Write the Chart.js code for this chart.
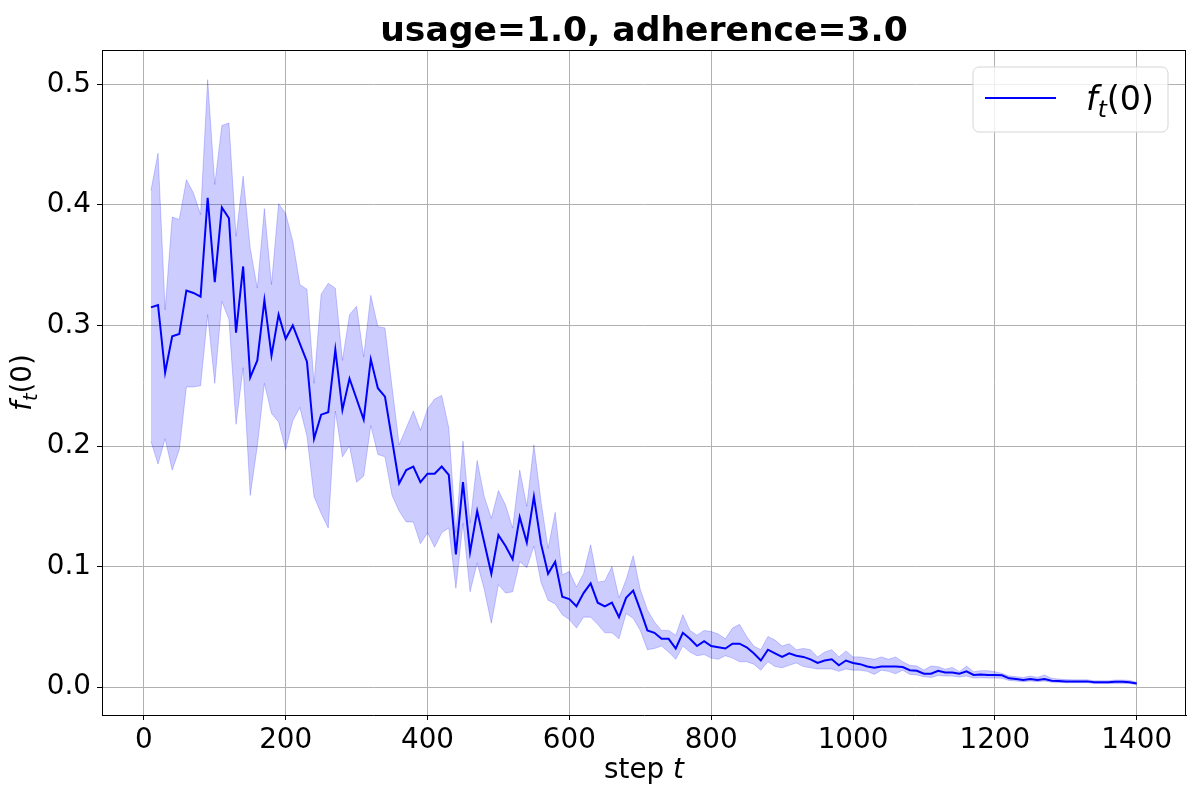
<!DOCTYPE html>
<html>
<head>
<meta charset="utf-8">
<script src="https://cdn.jsdelivr.net/npm/chart.js@4/dist/chart.umd.min.js"></script>
<style>
    body { margin: 0; background: #fff; }
    #wrap { width: 1200px; height: 800px; }
</style>
</head>
<body>
<div id="wrap"><canvas id="chartFt0" width="1200" height="800"></canvas></div>
<script>
// data
var steps = [10, 20, 30, 40, 50, 60, 70, 80, 90, 100,
    110, 120, 130, 140, 150, 160, 170, 180, 190, 200,
    210, 220, 230, 240, 250, 260, 270, 280, 290, 300,
    310, 320, 330, 340, 350, 360, 370, 380, 390, 400,
    410, 420, 430, 440, 450, 460, 470, 480, 490, 500,
    510, 520, 530, 540, 550, 560, 570, 580, 590, 600,
    610, 620, 630, 640, 650, 660, 670, 680, 690, 700,
    710, 720, 730, 740, 750, 760, 770, 780, 790, 800,
    810, 820, 830, 840, 850, 860, 870, 880, 890, 900,
    910, 920, 930, 940, 950, 960, 970, 980, 990, 1000,
    1010, 1020, 1030, 1040, 1050, 1060, 1070, 1080, 1090, 1100,
    1110, 1120, 1130, 1140, 1150, 1160, 1170, 1180, 1190, 1200,
    1210, 1220, 1230, 1240, 1250, 1260, 1270, 1280, 1290, 1300,
    1310, 1320, 1330, 1340, 1350, 1360, 1370, 1380, 1390, 1400];

var meanVals = [0.315, 0.317, 0.261, 0.291, 0.293, 0.329, 0.327, 0.324, 0.406, 0.336,
    0.398, 0.389, 0.294, 0.349, 0.257, 0.271, 0.321, 0.275, 0.309, 0.289,
    0.300, 0.285, 0.270, 0.206, 0.226, 0.228, 0.280, 0.230, 0.256, 0.239,
    0.222, 0.272, 0.248, 0.241, 0.205, 0.169, 0.180, 0.183, 0.170, 0.177,
    0.177, 0.183, 0.176, 0.110, 0.170, 0.112, 0.146, 0.120, 0.094, 0.126,
    0.117, 0.106, 0.141, 0.120, 0.158, 0.119, 0.094, 0.104, 0.075, 0.073,
    0.067, 0.078, 0.086, 0.070, 0.067, 0.070, 0.058, 0.074, 0.080, 0.064,
    0.047, 0.045, 0.040, 0.040, 0.032, 0.045, 0.040, 0.034, 0.038, 0.034,
    0.033, 0.032, 0.036, 0.036, 0.033, 0.028, 0.022, 0.031, 0.028, 0.025,
    0.028, 0.026, 0.025, 0.023, 0.020, 0.022, 0.023, 0.018, 0.022, 0.020,
    0.019, 0.017, 0.016, 0.017, 0.017, 0.017, 0.0166, 0.014, 0.0135, 0.011,
    0.011, 0.0135, 0.012, 0.012, 0.011, 0.013, 0.010, 0.0105, 0.010, 0.010,
    0.0097, 0.0072, 0.0066, 0.0058, 0.0066, 0.0058, 0.0066, 0.0052, 0.005, 0.0047,
    0.0047, 0.0047, 0.0047, 0.004, 0.004, 0.004, 0.0044, 0.0044, 0.004, 0.003];

var upperVals = [0.412, 0.443, 0.313, 0.390, 0.388, 0.421, 0.410, 0.392, 0.504, 0.417,
    0.466, 0.468, 0.374, 0.424, 0.364, 0.331, 0.397, 0.334, 0.401, 0.393,
    0.370, 0.334, 0.330, 0.252, 0.326, 0.335, 0.331, 0.271, 0.309, 0.316,
    0.274, 0.325, 0.299, 0.298, 0.249, 0.201, 0.215, 0.229, 0.213, 0.231,
    0.239, 0.242, 0.215, 0.128, 0.204, 0.136, 0.188, 0.158, 0.140, 0.163,
    0.151, 0.132, 0.180, 0.150, 0.201, 0.154, 0.115, 0.145, 0.093, 0.096,
    0.083, 0.094, 0.118, 0.087, 0.088, 0.100, 0.074, 0.089, 0.109, 0.081,
    0.064, 0.054, 0.047, 0.047, 0.043, 0.060, 0.047, 0.043, 0.047, 0.046,
    0.044, 0.040, 0.049, 0.052, 0.042, 0.034, 0.031, 0.042, 0.039, 0.034,
    0.036, 0.031, 0.032, 0.031, 0.025, 0.029, 0.031, 0.025, 0.030, 0.025,
    0.025, 0.024, 0.023, 0.025, 0.023, 0.025, 0.021, 0.018, 0.0175, 0.0141,
    0.0174, 0.0169, 0.0147, 0.0163, 0.0127, 0.0174, 0.0127, 0.0136, 0.0136, 0.0127,
    0.0113, 0.0091, 0.0086, 0.008, 0.0091, 0.008, 0.010, 0.0072, 0.0066, 0.0062,
    0.006, 0.006, 0.006, 0.0052, 0.0052, 0.0052, 0.0058, 0.0058, 0.0055, 0.004];

var lowerVals = [0.204, 0.185, 0.206, 0.180, 0.197, 0.249, 0.249, 0.250, 0.309, 0.252,
    0.320, 0.305, 0.218, 0.265, 0.159, 0.200, 0.252, 0.227, 0.220, 0.197,
    0.221, 0.232, 0.208, 0.158, 0.144, 0.132, 0.229, 0.191, 0.200, 0.170,
    0.175, 0.217, 0.193, 0.191, 0.159, 0.146, 0.137, 0.137, 0.119, 0.128,
    0.116, 0.128, 0.132, 0.082, 0.136, 0.079, 0.103, 0.081, 0.053, 0.085,
    0.078, 0.079, 0.104, 0.099, 0.117, 0.087, 0.072, 0.069, 0.060, 0.056,
    0.049, 0.058, 0.058, 0.052, 0.045, 0.045, 0.040, 0.061, 0.057, 0.047,
    0.031, 0.032, 0.034, 0.029, 0.023, 0.034, 0.029, 0.026, 0.027, 0.024,
    0.023, 0.026, 0.024, 0.021, 0.021, 0.019, 0.014, 0.021, 0.017, 0.016,
    0.018, 0.020, 0.017, 0.016, 0.015, 0.015, 0.015, 0.013, 0.015, 0.014,
    0.014, 0.013, 0.0105, 0.014, 0.013, 0.011, 0.014, 0.0105, 0.010, 0.0086,
    0.008, 0.0095, 0.0091, 0.0091, 0.0083, 0.0091, 0.0075, 0.0077, 0.0075, 0.0075,
    0.0072, 0.0055, 0.005, 0.0044, 0.005, 0.0044, 0.005, 0.004, 0.0038, 0.0036,
    0.0036, 0.0036, 0.0036, 0.003, 0.003, 0.003, 0.003, 0.003, 0.0028, 0.0022];

var xTicks = [0, 200, 400, 600, 800, 1000, 1200, 1400];
var yTicks = [0.0, 0.1, 0.2, 0.3, 0.4, 0.5];

var chartTitle = 'usage=1.0, adherence=3.0';
var xLabel = 'step';
var xLabelVar = 't';
var seriesLabel = ['f', 't', '(0)'];

var FONT = '"DejaVu Sans", sans-serif';

function toPoints(vals) {
    var pts = [];
    for (var i = 0; i < steps.length; i++) {
        pts.push({ x: steps[i], y: vals[i] });
    }
    return pts;
}

// f_t(0) with italic f, small lowered t
function drawFt0(ctx, x, y, size) {
    ctx.textAlign = 'left';
    ctx.textBaseline = 'alphabetic';
    ctx.font = 'italic ' + size + 'px ' + FONT;
    ctx.fillText(seriesLabel[0], x, y);
    x += ctx.measureText(seriesLabel[0]).width;
    var small = size * 0.7;
    ctx.font = 'italic ' + small + 'px ' + FONT;
    ctx.fillText(seriesLabel[1], x, y + size * 0.2);
    x += ctx.measureText(seriesLabel[1]).width;
    ctx.font = size + 'px ' + FONT;
    ctx.fillText(seriesLabel[2], x, y);
}

function widthFt0(ctx, size) {
    ctx.font = 'italic ' + size + 'px ' + FONT;
    var w = ctx.measureText(seriesLabel[0]).width;
    ctx.font = 'italic ' + (size * 0.7) + 'px ' + FONT;
    w += ctx.measureText(seriesLabel[1]).width;
    ctx.font = size + 'px ' + FONT;
    return w + ctx.measureText(seriesLabel[2]).width;
}

var decorPlugin = {
    id: 'decor',
    afterDraw: function (chart) {
        var ctx = chart.ctx;
        var a = chart.chartArea;
        ctx.save();

        // spines (top and right; left/bottom come from the axis borders)
        ctx.fillStyle = '#000';
        ctx.fillRect(Math.round(a.left), Math.round(a.top), Math.round(a.right - a.left), 1);
        ctx.fillRect(Math.round(a.right) - 1, Math.round(a.top), 1, Math.round(a.bottom - a.top));

        // title
        ctx.font = 'bold 34.6px ' + FONT;
        ctx.textAlign = 'center';
        ctx.textBaseline = 'alphabetic';
        ctx.fillText(chartTitle, (a.left + a.right) / 2, 41);

        // x label
        ctx.font = '27.8px ' + FONT;
        var w1 = ctx.measureText(xLabel + ' ').width;
        ctx.font = 'italic 27.8px ' + FONT;
        var w2 = ctx.measureText(xLabelVar).width;
        var sx = (a.left + a.right) / 2 - (w1 + w2) / 2;
        ctx.textAlign = 'left';
        ctx.font = '27.8px ' + FONT;
        ctx.fillText(xLabel + ' ', sx, 778);
        ctx.font = 'italic 27.8px ' + FONT;
        ctx.fillText(xLabelVar, sx + w1, 778);

        // y label
        ctx.save();
        ctx.translate(31, (a.top + a.bottom) / 2);
        ctx.rotate(-Math.PI / 2);
        var yw = widthFt0(ctx, 27.8);
        drawFt0(ctx, -yw / 2, 0, 27.8);
        ctx.restore();

        // legend
        var bx = 973, by = 67, bw = 195, bh = 65, r = 6;
        ctx.beginPath();
        ctx.moveTo(bx + r, by);
        ctx.arcTo(bx + bw, by, bx + bw, by + bh, r);
        ctx.arcTo(bx + bw, by + bh, bx, by + bh, r);
        ctx.arcTo(bx, by + bh, bx, by, r);
        ctx.arcTo(bx, by, bx + bw, by, r);
        ctx.closePath();
        ctx.fillStyle = 'rgba(255,255,255,0.8)';
        ctx.fill();
        ctx.strokeStyle = '#d5d5d5';
        ctx.lineWidth = 1;
        ctx.stroke();

        ctx.strokeStyle = '#0000ff';
        ctx.lineWidth = 2;
        ctx.beginPath();
        ctx.moveTo(985, 98);
        ctx.lineTo(1056, 98);
        ctx.stroke();

        ctx.fillStyle = '#000';
        drawFt0(ctx, 1086, 110, 33.3);

        ctx.restore();
    }
};

var ctxFt0 = document.getElementById('chartFt0').getContext('2d');
var chartFt0 = new Chart(ctxFt0, {
    type: 'line',
    data: {
        datasets: [{
            label: 'mean',
            data: toPoints(meanVals),
            borderColor: '#0000ff',
            borderWidth: 2,
            pointRadius: 0,
            tension: 0,
            fill: false
        }, {
            label: 'lower',
            data: toPoints(lowerVals),
            borderColor: 'rgba(0,0,255,0.2)',
            borderWidth: 1,
            pointRadius: 0,
            tension: 0,
            fill: false
        }, {
            label: 'upper',
            data: toPoints(upperVals),
            borderColor: 'rgba(0,0,255,0.2)',
            backgroundColor: 'rgba(0,0,255,0.2)',
            borderWidth: 1,
            pointRadius: 0,
            tension: 0,
            fill: 1
        }]
    },
    options: {
        responsive: false,
        animation: false,
        layout: {
            padding: { top: 50, right: 14, left: 0, bottom: 0 }
        },
        plugins: {
            legend: { display: false },
            title: { display: false },
            tooltip: { enabled: false }
        },
        scales: {
            x: {
                type: 'linear',
                min: -59,
                max: 1469.5,
                afterFit: function (s) { s.height = 85; },
                afterBuildTicks: function (s) {
                    s.ticks = xTicks.map(function (v) { return { value: v }; });
                },
                ticks: {
                    color: '#000',
                    font: { family: FONT, size: 27.8 },
                    padding: 4,
                    maxRotation: 0,
                    callback: function (v) { return String(v); }
                },
                grid: {
                    color: '#b0b0b0',
                    lineWidth: 1,
                    tickColor: '#000',
                    tickLength: 5
                },
                border: { color: '#000', width: 1 }
            },
            y: {
                type: 'linear',
                min: -0.0232,
                max: 0.5286,
                afterFit: function (s) { s.width = 102; },
                afterBuildTicks: function (s) {
                    s.ticks = yTicks.map(function (v) { return { value: v }; });
                },
                ticks: {
                    color: '#000',
                    font: { family: FONT, size: 27.8 },
                    padding: 6,
                    callback: function (v) { return v.toFixed(1); }
                },
                grid: {
                    color: '#b0b0b0',
                    lineWidth: 1,
                    tickColor: '#000',
                    tickLength: 5
                },
                border: { color: '#000', width: 1 }
            }
        }
    },
    plugins: [decorPlugin]
});
</script>
</body>
</html>
